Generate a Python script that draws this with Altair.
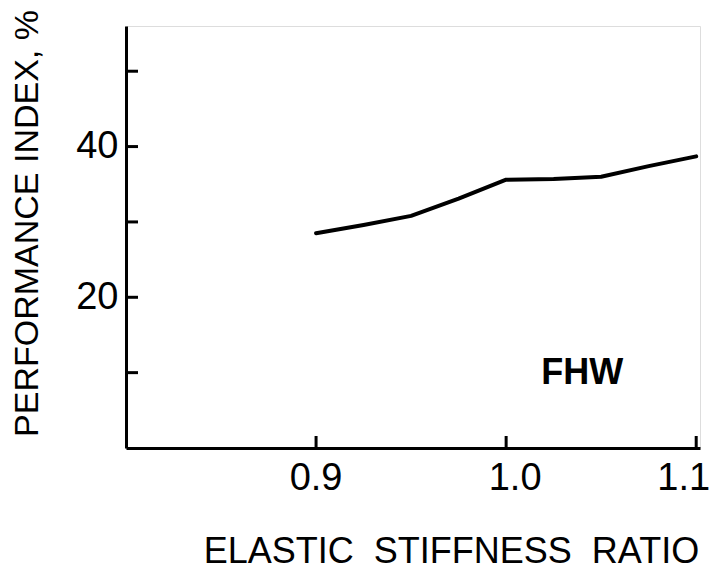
import altair as alt
import pandas as pd

# Data
stiffness_ratio = [0.9, 0.925, 0.95, 0.975, 1.0, 1.025, 1.05, 1.075, 1.1]
performance_index = [28.5, 29.6, 30.8, 33.1, 35.6, 35.7, 36.0, 37.4, 38.7]
y_tick_values = [10, 20, 30, 40, 50]
y_label_values = [20, 40]
x_tick_values = [0.9, 1.0, 1.1]
annotation_text = ["FHW"]

FONT = "Liberation Sans"
W, H = 574, 422
X_DOM = [0.8, 1.102]
Y_DOM = [0, 56]
NB = "\u00a0"

df = pd.DataFrame({"x": stiffness_ratio, "y": performance_index})
xs = alt.Scale(domain=X_DOM, nice=False, zero=False)
ys = alt.Scale(domain=Y_DOM, nice=False, zero=False)

line = alt.Chart(df).mark_line(color="black", strokeWidth=4, strokeJoin="round", strokeCap="round").encode(
    x=alt.X("x:Q", scale=xs, axis=alt.Axis(
        title=f"ELASTIC{NB}{NB}STIFFNESS{NB}{NB}RATIO",
        values=x_tick_values, labels=False, ticks=False, grid=False,
        domainColor="black", domainWidth=3,
        titleFont=FONT, titleFontSize=36, titleFontWeight="normal", titleColor="black",
        titlePadding=86, titleX=325, titleAlign="center")),
    y=alt.Y("y:Q", scale=ys, axis=alt.Axis(
        title="PERFORMANCE INDEX, %",
        values=y_label_values, ticks=False, grid=False,
        domainColor="black", domainWidth=3,
        labelFont=FONT, labelFontSize=38, labelColor="black", labelPadding=8,
        titleFont=FONT, titleFontSize=34, titleFontWeight="normal", titleColor="black",
        titlePadding=31, titleY=197, titleAlign="center")),
)

tick_df = pd.DataFrame({"v": x_tick_values})


def xlabel(test, align, dx):
    return alt.Chart(tick_df).transform_filter(test).mark_text(
        font=FONT, fontSize=38, color="black", baseline="top", align=align, dx=dx,
    ).encode(x=alt.X("v:Q", scale=xs), y=alt.value(H + 12), text=alt.Text("v:Q", format=".1f"))


xlab_a = xlabel("datum.v < 0.95", "center", 0)
xlab_b = xlabel("datum.v > 0.95 && datum.v < 1.05", "center", 9)
xlab_c = xlabel("datum.v > 1.05", "right", 14)

yt = alt.Chart(pd.DataFrame({"v": y_tick_values})).mark_rule(color="black", strokeWidth=3).encode(
    y=alt.Y("v:Q", scale=ys), x=alt.value(0), x2=alt.value(12))
xt = alt.Chart(tick_df).mark_rule(color="black", strokeWidth=3).encode(
    x=alt.X("v:Q", scale=xs), y=alt.value(H), y2=alt.value(H - 12))

ann = alt.Chart(pd.DataFrame({"t": annotation_text, "x": [1.04], "y": [10.0]})).mark_text(
    font=FONT, fontSize=36, fontWeight="bold", color="black", baseline="middle", align="center").encode(
    x=alt.X("x:Q", scale=xs), y=alt.Y("y:Q", scale=ys), text="t:N")

chart = alt.layer(line, yt, xt, xlab_a, xlab_b, xlab_c, ann).properties(
    width=W, height=H,
    autosize=alt.AutoSizeParams(type="none"),
    padding={"left": 126, "top": 26, "right": 14, "bottom": 122},
).configure_view(stroke=None).configure(background="white")

chart.save("out.html", embed_options={"renderer": "svg", "actions": False})
